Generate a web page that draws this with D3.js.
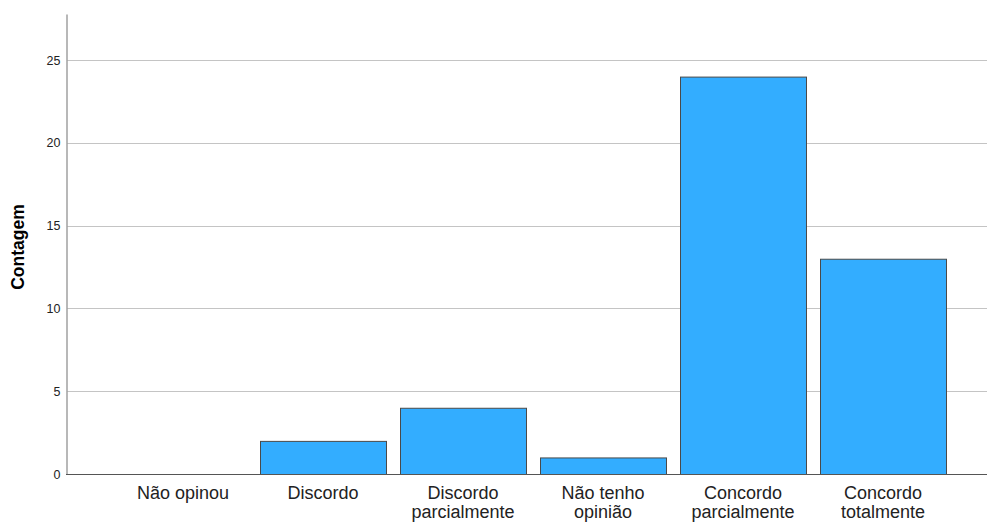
<!DOCTYPE html>
<html><head><meta charset="utf-8">
<script src="https://cdn.jsdelivr.net/npm/d3@7/dist/d3.min.js"></script>
<style>body{margin:0;background:#fff}svg{display:block}</style>
</head><body>
<svg id="c" width="987" height="522"></svg>
<script>
const categories = [["Não opinou"], ["Discordo"], ["Discordo", "parcialmente"], ["Não tenho", "opinião"], ["Concordo", "parcialmente"], ["Concordo", "totalmente"]];
const counts = [0, 2, 4, 1, 24, 13];
const yTicks = [0, 5, 10, 15, 20, 25];
const yLabel = "Contagem";

const svg = d3.select("#c");
const font = "'Liberation Sans', Arial, sans-serif";
const keys = categories.map(c => c.join(" "));
const x = d3.scaleBand().domain(keys).range([113, 953]).paddingInner(0.1).paddingOuter(0.05);
const y = d3.scaleLinear().domain([0, 27.78]).range([474, 14]);

// gridlines
svg.append("g").selectAll("line").data(yTicks.filter(t => t > 0)).join("line")
  .attr("x1", 67).attr("x2", 987)
  .attr("y1", d => Math.round(y(d)) + 0.5).attr("y2", d => Math.round(y(d)) + 0.5)
  .attr("stroke", "#c4c4c4").attr("stroke-width", 1);

// y axis
const yAxis = d3.axisLeft(y).tickValues(yTicks).tickSize(0).tickPadding(6);
const gy = svg.append("g").attr("transform", "translate(66.5,0)").call(yAxis);
gy.select(".domain").attr("stroke", "#a0a0a0").attr("stroke-width", 1.5);
gy.selectAll("text").attr("font-family", font).attr("font-size", 12.5).attr("fill", "#222");

// bars
svg.append("g").selectAll("rect").data(counts).join("rect")
  .attr("x", (d, i) => x(keys[i]) + 0.5)
  .attr("y", d => y(d) + 0.5)
  .attr("width", x.bandwidth())
  .attr("height", d => Math.max(0, y(0) - y(d)))
  .attr("fill", "#33adff")
  .attr("stroke", "#4a4a4a").attr("stroke-width", 1)
  .attr("display", d => d > 0 ? null : "none");

// baseline
svg.append("line").attr("x1", 66).attr("x2", 987).attr("y1", y(0) + 0.5).attr("y2", y(0) + 0.5)
  .attr("stroke", "#555").attr("stroke-width", 1.2);

// x labels
const gx = svg.append("g");
categories.forEach((lines, i) => {
  const cx = x(keys[i]) + x.bandwidth() / 2;
  const t = gx.append("text")
    .attr("x", cx)
    .attr("y", 499)
    .attr("text-anchor", "middle")
    .attr("font-family", font).attr("font-size", 18).attr("fill", "#222");
  lines.forEach((l, j) => t.append("tspan").attr("x", cx).attr("dy", j === 0 ? 0 : 19).text(l));
});

// y label
svg.append("text")
  .attr("transform", "translate(24,247) rotate(-90)")
  .attr("text-anchor", "middle")
  .attr("font-family", font).attr("font-size", 17.5).attr("font-weight", "bold").attr("fill", "#000")
  .text(yLabel);
</script>
</body></html>
